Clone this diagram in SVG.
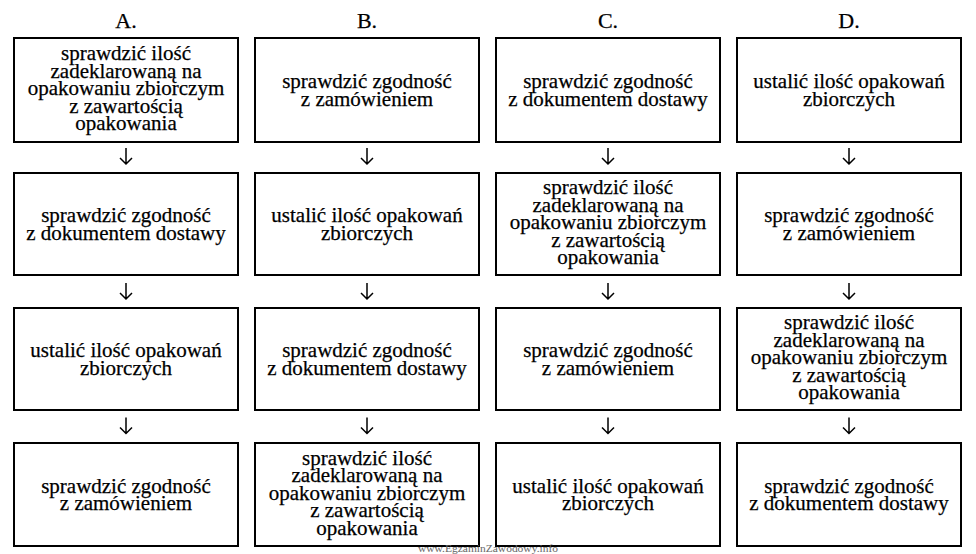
<svg xmlns="http://www.w3.org/2000/svg" width="976" height="554" viewBox="0 0 976 554">
<style>
.box{fill:#fff;stroke:#000;stroke-width:2}
.t{font-family:"Liberation Serif","Times New Roman",serif;font-size:21px;text-anchor:middle;fill:#000;stroke:#000;stroke-width:0.25}
.h{font-family:"Liberation Serif","Times New Roman",serif;font-size:22px;text-anchor:middle;fill:#000;stroke:#000;stroke-width:0.25}
.arr{fill:none;stroke:#000;stroke-width:1.5}
.wm{font-family:"Liberation Serif","Times New Roman",serif;font-size:11px;text-anchor:middle;fill:#666}
</style>
<rect width="976" height="554" fill="#fff"/>
<g id="headers">
<text class="h" x="126" y="28">A.</text>
<text class="h" x="367" y="28">B.</text>
<text class="h" x="608" y="28">C.</text>
<text class="h" x="849" y="28">D.</text>
</g>
<g id="connectors">
<path class="arr" d="M126 148v16M120 158l6 6 6-6M367 148v16M361 158l6 6 6-6M608 148v16M602 158l6 6 6-6M849 148v16M843 158l6 6 6-6"/>
<path class="arr" d="M126 283v16M120 293l6 6 6-6M367 283v16M361 293l6 6 6-6M608 283v16M602 293l6 6 6-6M849 283v16M843 293l6 6 6-6"/>
<path class="arr" d="M126 417.5v16M120 427.5l6 6 6-6M367 417.5v16M361 427.5l6 6 6-6M608 417.5v16M602 427.5l6 6 6-6M849 417.5v16M843 427.5l6 6 6-6"/>
</g>
<!-- Column A -->
<g id="A1"><rect class="box" x="14" y="38" width="224" height="104"/>
<text class="t" x="126" y="60">sprawdzić ilość</text><text class="t" x="126" y="77.5">zadeklarowaną na</text><text class="t" x="126" y="95">opakowaniu zbiorczym</text><text class="t" x="126" y="112.5">z zawartością</text><text class="t" x="126" y="130">opakowania</text></g>
<g id="A2"><rect class="box" x="14" y="173" width="224" height="102"/>
<text class="t" x="126" y="222">sprawdzić zgodność</text><text class="t" x="126" y="239.5">z dokumentem dostawy</text></g>
<g id="A3"><rect class="box" x="14" y="308" width="224" height="102"/>
<text class="t" x="126" y="357">ustalić ilość opakowań</text><text class="t" x="126" y="374.5">zbiorczych</text></g>
<g id="A4"><rect class="box" x="14" y="443" width="224" height="103"/>
<text class="t" x="126" y="492.5">sprawdzić zgodność</text><text class="t" x="126" y="510">z zamówieniem</text></g>
<!-- Column B -->
<g id="B1"><rect class="box" x="255" y="38" width="224" height="104"/>
<text class="t" x="367" y="88">sprawdzić zgodność</text><text class="t" x="367" y="105.5">z zamówieniem</text></g>
<g id="B2"><rect class="box" x="255" y="173" width="224" height="102"/>
<text class="t" x="367" y="222">ustalić ilość opakowań</text><text class="t" x="367" y="239.5">zbiorczych</text></g>
<g id="B3"><rect class="box" x="255" y="308" width="224" height="102"/>
<text class="t" x="367" y="357">sprawdzić zgodność</text><text class="t" x="367" y="374.5">z dokumentem dostawy</text></g>
<g id="B4"><rect class="box" x="255" y="443" width="224" height="103"/>
<text class="t" x="367" y="464.5">sprawdzić ilość</text><text class="t" x="367" y="482">zadeklarowaną na</text><text class="t" x="367" y="499.5">opakowaniu zbiorczym</text><text class="t" x="367" y="517">z zawartością</text><text class="t" x="367" y="534.5">opakowania</text></g>
<!-- Column C -->
<g id="C1"><rect class="box" x="496" y="38" width="224" height="104"/>
<text class="t" x="608" y="88">sprawdzić zgodność</text><text class="t" x="608" y="105.5">z dokumentem dostawy</text></g>
<g id="C2"><rect class="box" x="496" y="173" width="224" height="102"/>
<text class="t" x="608" y="194">sprawdzić ilość</text><text class="t" x="608" y="211.5">zadeklarowaną na</text><text class="t" x="608" y="229">opakowaniu zbiorczym</text><text class="t" x="608" y="246.5">z zawartością</text><text class="t" x="608" y="264">opakowania</text></g>
<g id="C3"><rect class="box" x="496" y="308" width="224" height="102"/>
<text class="t" x="608" y="357">sprawdzić zgodność</text><text class="t" x="608" y="374.5">z zamówieniem</text></g>
<g id="C4"><rect class="box" x="496" y="443" width="224" height="103"/>
<text class="t" x="608" y="492.5">ustalić ilość opakowań</text><text class="t" x="608" y="510">zbiorczych</text></g>
<!-- Column D -->
<g id="D1"><rect class="box" x="737" y="38" width="224" height="104"/>
<text class="t" x="849" y="88">ustalić ilość opakowań</text><text class="t" x="849" y="105.5">zbiorczych</text></g>
<g id="D2"><rect class="box" x="737" y="173" width="224" height="102"/>
<text class="t" x="849" y="222">sprawdzić zgodność</text><text class="t" x="849" y="239.5">z zamówieniem</text></g>
<g id="D3"><rect class="box" x="737" y="308" width="224" height="102"/>
<text class="t" x="849" y="329">sprawdzić ilość</text><text class="t" x="849" y="346.5">zadeklarowaną na</text><text class="t" x="849" y="364">opakowaniu zbiorczym</text><text class="t" x="849" y="381.5">z zawartością</text><text class="t" x="849" y="399">opakowania</text></g>
<g id="D4"><rect class="box" x="737" y="443" width="224" height="103"/>
<text class="t" x="849" y="492.5">sprawdzić zgodność</text><text class="t" x="849" y="510">z dokumentem dostawy</text></g>
<text class="wm" x="488" y="552" textLength="140" lengthAdjust="spacingAndGlyphs">www.EgzaminZawodowy.info</text>
</svg>
